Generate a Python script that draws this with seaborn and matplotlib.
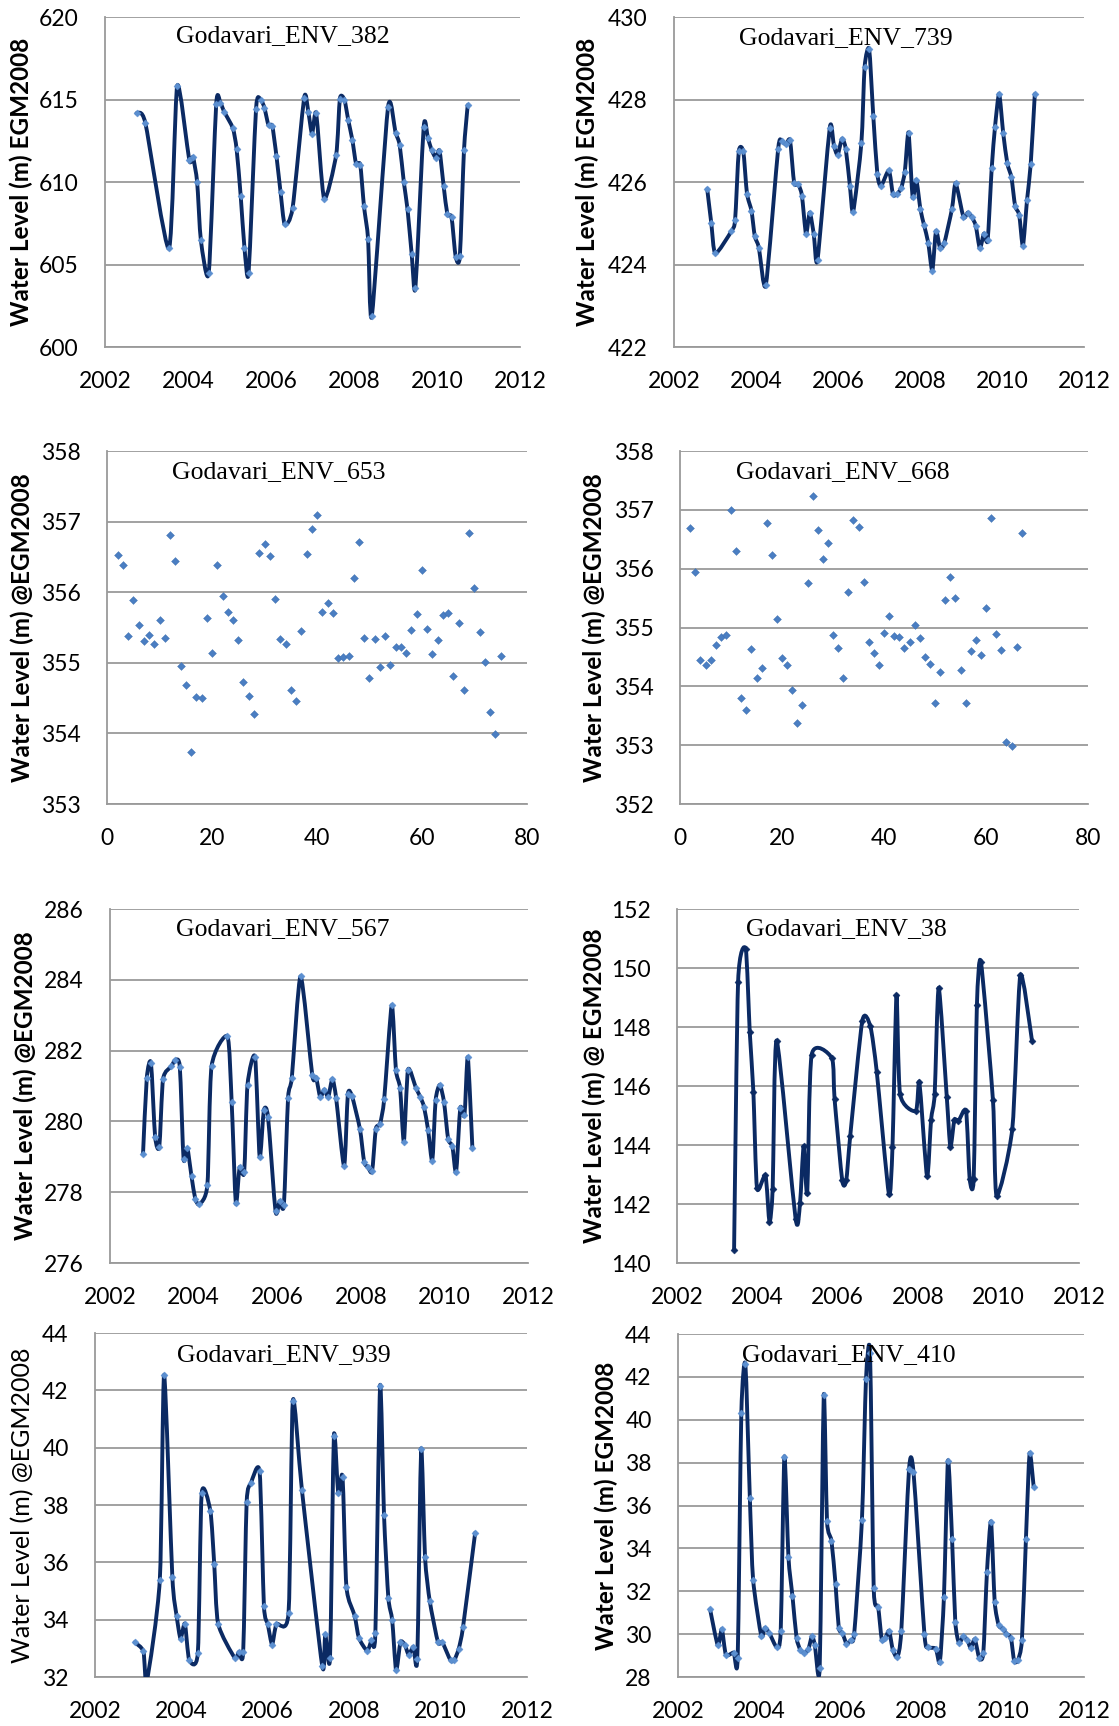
import matplotlib
matplotlib.use("Agg")
import matplotlib.pyplot as plt
from matplotlib.path import Path
from matplotlib.patches import PathPatch
import seaborn as sns
import numpy as np

# ---------------- data ----------------
env382_t = [2002.76, 2002.97, 2003.54, 2003.74, 2004.03, 2004.12, 2004.22, 2004.31, 2004.50, 2004.68,
            2004.78, 2004.87, 2005.08, 2005.17, 2005.27, 2005.36, 2005.46, 2005.64, 2005.75, 2005.84,
            2005.94, 2006.03, 2006.13, 2006.23, 2006.33, 2006.52, 2006.80, 2006.90, 2006.99, 2007.09,
            2007.28, 2007.57, 2007.66, 2007.77, 2007.86, 2007.96, 2008.05, 2008.15, 2008.24, 2008.34,
            2008.43, 2008.82, 2009.00, 2009.10, 2009.20, 2009.29, 2009.39, 2009.48, 2009.68, 2009.78,
            2009.87, 2009.97, 2010.06, 2010.16, 2010.25, 2010.35, 2010.45, 2010.55, 2010.65, 2010.74]
env382_h = [614.17, 613.60, 605.97, 615.83, 611.34, 611.50, 610.00, 606.48, 604.49, 614.74,
            614.80, 614.27, 613.26, 612.02, 609.15, 606.03, 604.49, 614.45, 614.98, 614.51,
            613.44, 613.40, 611.60, 609.39, 607.43, 608.42, 615.12, 614.23, 612.91, 614.17,
            609.00, 611.64, 615.06, 614.98, 613.77, 612.55, 611.11, 611.05, 608.54, 606.54,
            601.88, 614.53, 613.00, 612.25, 610.00, 608.34, 605.63, 603.60, 613.36, 612.67,
            611.94, 611.48, 611.90, 609.76, 608.04, 607.87, 605.47, 605.49, 611.92, 614.66]

env739_t = [2002.81, 2002.91, 2003.01, 2003.40, 2003.49, 2003.58, 2003.69, 2003.78, 2003.89, 2003.97,
            2004.07, 2004.24, 2004.54, 2004.63, 2004.73, 2004.83, 2004.93, 2005.03, 2005.12, 2005.22,
            2005.31, 2005.41, 2005.50, 2005.80, 2005.90, 2005.99, 2006.10, 2006.19, 2006.29, 2006.37,
            2006.57, 2006.65, 2006.76, 2006.86, 2006.96, 2007.05, 2007.24, 2007.34, 2007.43, 2007.54,
            2007.63, 2007.72, 2007.82, 2007.91, 2008.01, 2008.10, 2008.20, 2008.30, 2008.39, 2008.49,
            2008.59, 2008.78, 2008.87, 2009.06, 2009.17, 2009.27, 2009.36, 2009.46, 2009.56, 2009.65,
            2009.75, 2009.83, 2009.93, 2010.03, 2010.13, 2010.23, 2010.32, 2010.42, 2010.51, 2010.61,
            2010.70, 2010.80]
env739_h = [425.83, 425.00, 424.27, 424.81, 425.08, 426.74, 426.74, 425.72, 425.30, 424.69,
            424.41, 423.50, 426.80, 426.99, 426.91, 427.01, 425.98, 425.95, 425.67, 424.74,
            425.26, 424.73, 424.11, 427.32, 426.88, 426.66, 427.05, 426.80, 425.91, 425.28,
            426.94, 428.80, 429.22, 427.61, 426.19, 425.90, 426.28, 425.70, 425.70, 425.85,
            426.25, 427.20, 425.63, 426.05, 425.34, 424.95, 424.53, 423.85, 424.81, 424.40,
            424.51, 425.35, 425.97, 425.15, 425.26, 425.14, 424.94, 424.39, 424.75, 424.59,
            426.35, 427.34, 428.14, 427.18, 426.45, 426.11, 425.42, 425.20, 424.45, 425.56,
            426.43, 428.13]

env653_n = list(range(2, 76))
env653_h = [356.52, 356.38, 355.38, 355.89, 355.54, 355.31, 355.39, 355.26, 355.61, 355.35,
            356.81, 356.44, 354.96, 354.68, 353.74, 354.51, 354.50, 355.64, 355.14, 356.39,
            355.95, 355.72, 355.61, 355.33, 354.73, 354.53, 354.28, 356.56, 356.68, 356.51,
            355.91, 355.34, 355.27, 354.61, 354.46, 355.45, 356.54, 356.89, 357.09, 355.72,
            355.85, 355.70, 355.07, 355.08, 355.10, 356.20, 356.71, 355.35, 354.79, 355.34,
            354.94, 355.38, 354.97, 355.22, 355.22, 355.14, 355.46, 355.69, 356.32, 355.48,
            355.13, 355.33, 355.67, 355.70, 354.82, 355.56, 354.62, 356.84, 356.06, 355.44,
            355.01, 354.30, 353.99, 355.10]

env668_n = list(range(2, 68))
env668_h = [356.69, 355.95, 354.45, 354.36, 354.45, 354.70, 354.84, 354.87, 356.99, 356.30,
            353.81, 353.59, 354.64, 354.14, 354.31, 356.77, 356.24, 355.15, 354.48, 354.37,
            353.93, 353.37, 353.68, 355.75, 357.24, 356.65, 356.16, 356.43, 354.88, 354.65,
            354.14, 355.60, 356.82, 356.71, 355.77, 354.76, 354.56, 354.36, 354.90, 355.19,
            354.86, 354.84, 354.66, 354.75, 355.04, 354.83, 354.50, 354.38, 353.71, 354.25,
            355.47, 355.86, 355.50, 354.27, 353.71, 354.60, 354.79, 354.53, 355.33, 356.86,
            354.89, 354.61, 353.06, 352.98, 354.67, 356.61]

env567_t = [2002.79, 2002.88, 2002.98, 2003.08, 2003.18, 2003.27, 2003.47, 2003.56, 2003.67, 2003.76,
            2003.85, 2003.95, 2004.04, 2004.14, 2004.33, 2004.43, 2004.81, 2004.91, 2005.01, 2005.10,
            2005.21, 2005.29, 2005.47, 2005.58, 2005.68, 2005.78, 2005.96, 2006.06, 2006.16, 2006.26,
            2006.35, 2006.56, 2006.84, 2006.93, 2007.03, 2007.13, 2007.22, 2007.32, 2007.41, 2007.60,
            2007.69, 2007.79, 2007.98, 2008.08, 2008.17, 2008.27, 2008.36, 2008.46, 2008.56, 2008.74,
            2008.84, 2008.94, 2009.03, 2009.13, 2009.32, 2009.42, 2009.51, 2009.61, 2009.71, 2009.79,
            2009.89, 2009.99, 2010.09, 2010.19, 2010.28, 2010.38, 2010.48, 2010.56, 2010.67]
env567_h = [279.08, 281.23, 281.65, 279.56, 279.29, 281.20, 281.56, 281.73, 281.54, 278.94,
            279.24, 278.45, 277.81, 277.66, 278.21, 281.56, 282.40, 280.56, 277.69, 278.70,
            278.56, 281.04, 281.82, 279.00, 280.31, 280.13, 277.46, 277.75, 277.64, 280.66,
            281.24, 284.10, 281.30, 281.24, 280.69, 280.90, 280.69, 281.20, 280.66, 278.74,
            280.76, 280.71, 279.78, 278.86, 278.71, 278.59, 279.79, 279.93, 280.63, 283.28,
            281.45, 280.94, 279.43, 281.46, 280.94, 280.70, 280.42, 279.76, 278.89, 280.60,
            281.03, 280.55, 279.50, 279.30, 278.56, 280.38, 280.17, 281.81, 279.24]

env38_t = [2003.42, 2003.52, 2003.71, 2003.81, 2003.90, 2003.99, 2004.20, 2004.30, 2004.38, 2004.48,
           2004.95, 2005.06, 2005.15, 2005.24, 2005.35, 2005.85, 2005.92, 2006.11, 2006.21, 2006.31,
           2006.61, 2006.81, 2006.97, 2007.27, 2007.36, 2007.46, 2007.55, 2007.94, 2008.03, 2008.22,
           2008.32, 2008.41, 2008.51, 2008.71, 2008.80, 2008.90, 2009.00, 2009.19, 2009.28, 2009.38,
           2009.46, 2009.56, 2009.86, 2009.95, 2010.34, 2010.54, 2010.83]
env38_h = [140.45, 149.54, 150.64, 147.82, 145.80, 142.54, 142.97, 141.39, 142.52, 147.54,
           141.50, 142.03, 143.95, 142.37, 147.06, 146.95, 145.55, 142.80, 142.80, 144.32,
           148.21, 148.02, 146.47, 142.35, 143.92, 149.07, 145.72, 145.15, 146.12, 142.94,
           144.86, 145.73, 149.33, 145.64, 143.94, 144.85, 144.81, 145.15, 142.85, 142.85,
           148.73, 150.21, 145.51, 142.28, 144.54, 149.75, 147.54]

env939_t = [2002.92, 2003.12, 2003.20, 2003.50, 2003.60, 2003.79, 2003.89, 2003.98, 2004.08, 2004.18,
            2004.38, 2004.47, 2004.67, 2004.76, 2004.85, 2005.23, 2005.33, 2005.43, 2005.51, 2005.61,
            2005.81, 2005.91, 2006.00, 2006.10, 2006.20, 2006.48, 2006.58, 2006.79, 2007.26, 2007.33,
            2007.44, 2007.53, 2007.63, 2007.73, 2007.82, 2008.01, 2008.11, 2008.30, 2008.40, 2008.49,
            2008.60, 2008.69, 2008.79, 2008.88, 2008.97, 2009.07, 2009.17, 2009.26, 2009.37, 2009.46,
            2009.55, 2009.64, 2009.75, 2009.94, 2010.04, 2010.23, 2010.32, 2010.42, 2010.52, 2010.80]
env939_h = [33.21, 32.90, 31.86, 35.38, 42.54, 35.50, 34.13, 33.34, 33.86, 32.60,
            32.84, 38.41, 37.80, 35.94, 33.86, 32.68, 32.87, 32.87, 38.09, 38.76,
            39.17, 34.49, 33.84, 33.13, 33.84, 34.24, 41.64, 38.52, 32.38, 33.49,
            32.66, 40.41, 38.41, 38.99, 35.14, 34.14, 33.36, 32.92, 33.28, 33.54,
            42.16, 37.65, 34.77, 33.98, 32.23, 33.21, 33.13, 32.78, 33.05, 32.64,
            39.95, 36.17, 34.64, 33.21, 33.21, 32.58, 32.60, 32.99, 33.75, 37.03]

env410_t = [2002.79, 2002.98, 2003.08, 2003.18, 2003.37, 2003.47, 2003.56, 2003.66, 2003.77, 2003.85,
            2004.05, 2004.14, 2004.25, 2004.43, 2004.53, 2004.62, 2004.72, 2004.82, 2004.92, 2005.01,
            2005.11, 2005.21, 2005.30, 2005.37, 2005.49, 2005.59, 2005.67, 2005.78, 2005.88, 2005.96,
            2006.05, 2006.15, 2006.25, 2006.34, 2006.53, 2006.63, 2006.73, 2006.82, 2006.93, 2007.02,
            2007.11, 2007.20, 2007.29, 2007.40, 2007.50, 2007.69, 2007.80, 2008.07, 2008.16, 2008.35,
            2008.45, 2008.55, 2008.65, 2008.75, 2008.83, 2008.92, 2009.03, 2009.13, 2009.21, 2009.31,
            2009.42, 2009.52, 2009.61, 2009.71, 2009.80, 2009.90, 2010.00, 2010.09, 2010.20, 2010.28,
            2010.37, 2010.47, 2010.57, 2010.66, 2010.76]
env410_h = [31.16, 29.48, 30.23, 29.04, 29.14, 28.89, 40.33, 42.58, 36.33, 32.54,
            29.93, 30.29, 30.05, 29.40, 30.15, 38.27, 33.60, 31.76, 29.83, 29.28,
            29.12, 29.29, 29.91, 29.51, 28.44, 41.15, 35.28, 34.35, 32.33, 30.29,
            30.05, 29.56, 29.71, 30.02, 35.31, 41.88, 43.13, 32.16, 31.27, 29.74,
            29.83, 30.15, 29.28, 28.93, 30.15, 37.68, 37.57, 29.99, 29.40, 29.32,
            28.70, 31.73, 38.09, 34.46, 30.57, 29.59, 29.90, 29.71, 29.35, 29.76,
            28.89, 29.12, 32.90, 35.25, 31.51, 30.41, 30.26, 30.02, 29.82, 28.75,
            28.78, 29.71, 34.46, 38.43, 36.87]

titles = ["Godavari_ENV_382", "Godavari_ENV_739", "Godavari_ENV_653", "Godavari_ENV_668",
          "Godavari_ENV_567", "Godavari_ENV_38", "Godavari_ENV_939", "Godavari_ENV_410"]
ylabels = ["Water Level (m) EGM2008", "Water Level (m) EGM2008",
           "Water Level (m) @EGM2008", "Water Level (m) @EGM2008",
           "Water Level (m) @EGM2008", "Water Level (m) @ EGM2008",
           "Water Level (m) @EGM2008", "Water Level (m) EGM2008"]
year_ticks = [2002, 2004, 2006, 2008, 2010, 2012]
index_ticks = [0, 20, 40, 60, 80]

# ---------------- style ----------------
sns.set_theme(style="white")
plt.rcParams["font.family"] = ["Lato", "DejaVu Sans"]

W, H = 1119, 1726
fig = plt.figure(figsize=(W / 100, H / 100), dpi=100)

NAVY = "#0B2A63"
MARK = "#5B8FD0"
GRID = "#9A9A9A"

# panel boxes: left, right, top, bottom (pixels)
boxes = [(105, 520, 17, 347), (674, 1084, 17, 347),
         (107, 527, 451, 804), (680, 1088, 451, 804),
         (110, 528, 909, 1263), (677, 1079, 909, 1263),
         (95, 527, 1333, 1677), (678, 1084, 1334, 1677)]
ylims = [(600, 620, 5), (422, 430, 2), (353, 358, 1), (352, 358, 1),
         (276, 286, 2), (140, 152, 2), (32, 44, 2), (28, 44, 2)]
title_pos = [(0.429, 0.942), (0.418, 0.936), (0.41, 0.94), (0.40, 0.94),
             (0.413, 0.943), (0.421, 0.943), (0.438, 0.936), (0.42, 0.939)]
ylab_x = [-0.174, -0.182, -0.174, -0.182, -0.175, -0.177, -0.140, -0.147]

series = [("line", env382_t, env382_h), ("line", env739_t, env739_h),
          ("scatter", env653_n, env653_h), ("scatter", env668_n, env668_h),
          ("line", env567_t, env567_h), ("line38", env38_t, env38_h),
          ("line", env939_t, env939_h), ("line", env410_t, env410_h)]


def smooth_path(xs, ys, k=9.0):
    """Excel-style smoothed line: cubic Bezier through the data points."""
    p = np.column_stack([xs, ys]).astype(float)
    n = len(p)
    verts = [p[0]]
    codes = [Path.MOVETO]
    for i in range(n - 1):
        p0 = p[i - 1] if i > 0 else p[i]
        p1, p2 = p[i], p[i + 1]
        p3 = p[i + 2] if i + 2 < n else p[i + 1]
        verts += [p1 + (p2 - p0) / k, p2 - (p3 - p1) / k, p2]
        codes += [Path.CURVE4] * 3
    return Path(verts, codes)


for i, (kind, xs, ys) in enumerate(series):
    l, r, t, b = boxes[i]
    ax = fig.add_axes([l / W, 1 - b / H, (r - l) / W, (b - t) / H])
    if kind == "scatter":
        sns.scatterplot(x=xs, y=ys, ax=ax, marker="D", s=16, color="#4A7EC2",
                        edgecolor="#3D6FB0", linewidth=0.3, zorder=3)
        ax.set_xlim(0, 80)
        ax.set_xticks(index_ticks)
    else:
        mc = NAVY if kind == "line38" else MARK
        ax.add_patch(PathPatch(smooth_path(xs, ys), facecolor="none", edgecolor=NAVY,
                               linewidth=2.8, capstyle="round", joinstyle="round", zorder=3))
        sns.scatterplot(x=xs, y=ys, ax=ax, marker="D", s=13, color=mc,
                        edgecolor=mc, linewidth=0.3, zorder=4)
        ax.set_xlim(2002, 2012)
        ax.set_xticks(year_ticks)
    lo, hi, st = ylims[i]
    ax.set_ylim(lo, hi)
    ax.set_yticks(np.arange(lo, hi + st / 2, st))
    ax.yaxis.grid(True, color=GRID, linewidth=1.3)
    ax.xaxis.grid(False)
    ax.set_axisbelow(True)
    for s in ["top", "right"]:
        ax.spines[s].set_visible(False)
    for s in ["left", "bottom"]:
        ax.spines[s].set_color(GRID)
        ax.spines[s].set_linewidth(1.3)
    ax.tick_params(axis="both", length=0, labelsize=16.5, colors="black")
    ax.tick_params(axis="x", pad=17)
    ax.tick_params(axis="y", pad=19)
    ax.set_xlabel("")
    if i == 6:
        ax.set_ylabel(ylabels[i], fontsize=18, fontweight="normal", color="black")
    else:
        ax.set_ylabel(ylabels[i], fontsize=17.5, fontweight="bold", color="black")
    ax.yaxis.set_label_coords(ylab_x[i], 0.5)
    tx, ty = title_pos[i]
    ax.text(tx, ty, titles[i], transform=ax.transAxes, ha="center", va="center",
            fontsize=18.5, family=["Liberation Serif", "DejaVu Serif"], color="black", zorder=5)

fig.savefig("out.png", dpi=100)
